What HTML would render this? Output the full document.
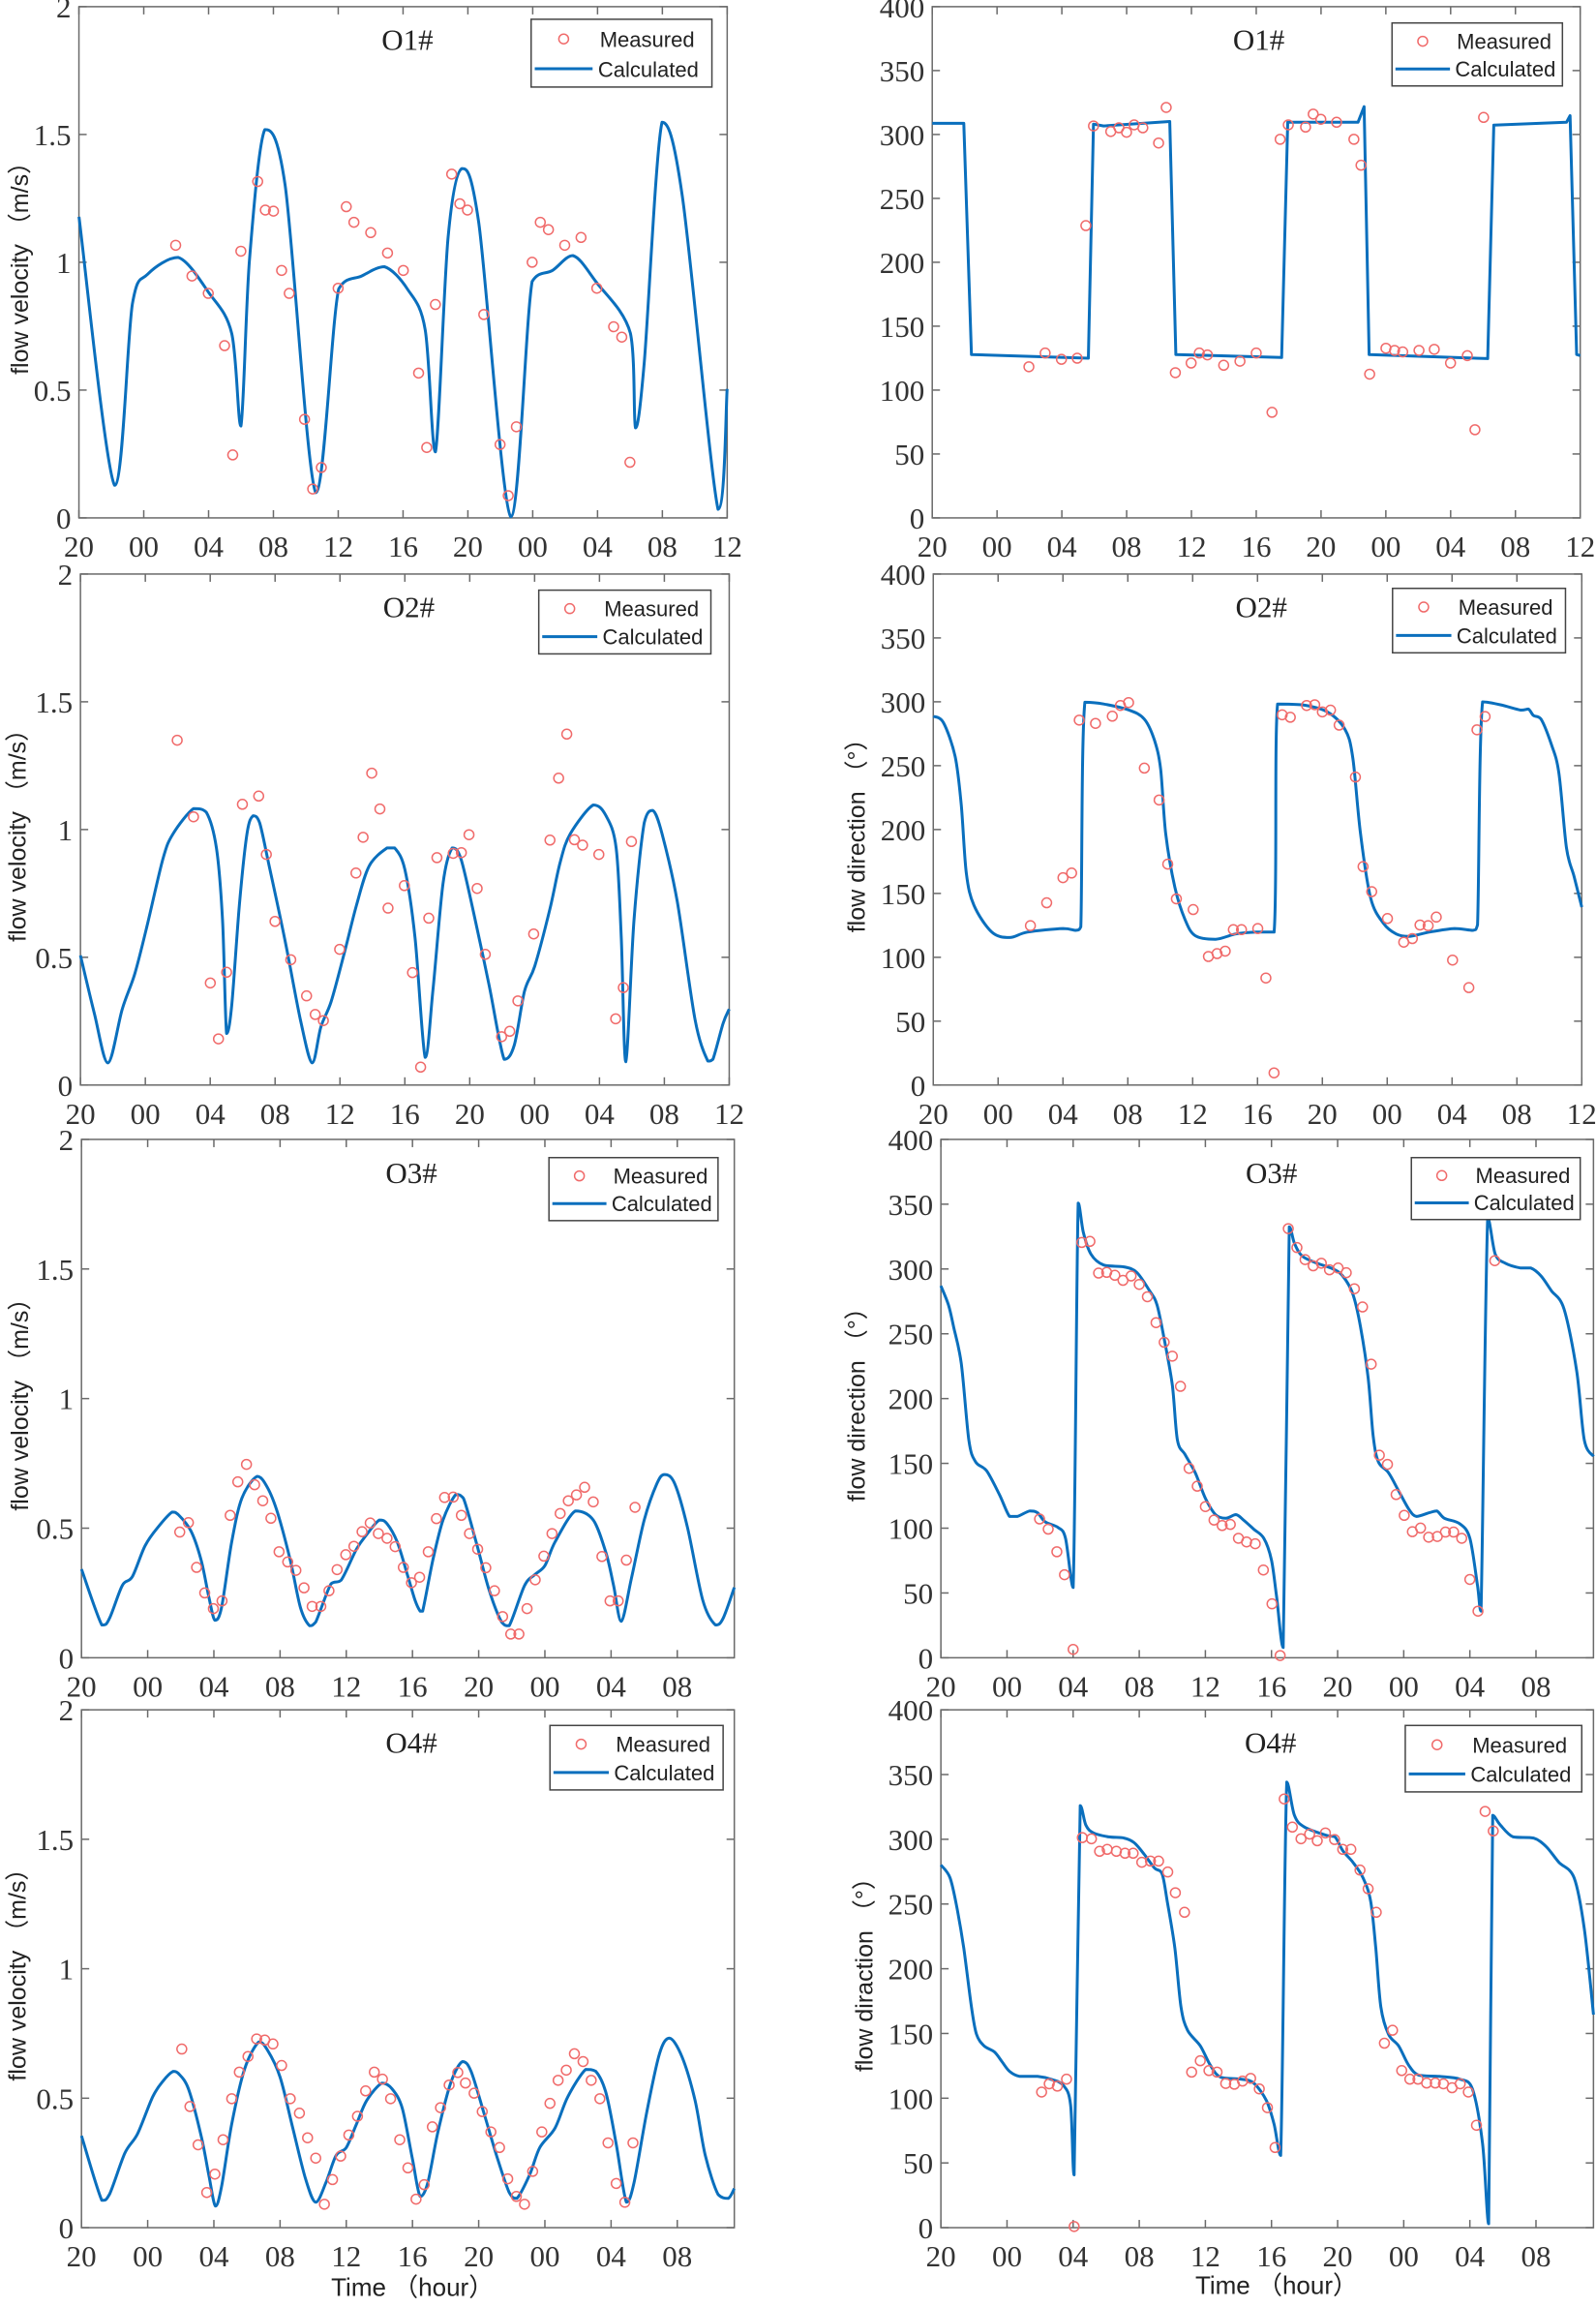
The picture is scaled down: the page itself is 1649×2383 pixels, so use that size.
<!DOCTYPE html>
<html><head><meta charset="utf-8">
<style>
html,body{margin:0;padding:0;background:#fff;}
svg{display:block;}
</style></head>
<body>
<svg id="s" xmlns="http://www.w3.org/2000/svg" width="1649" height="2383" viewBox="0 0 1649 2383">
<rect width="1649" height="2383" fill="#fff"/>
</svg>
<script>
const S=document.getElementById('s');
const NS='http://www.w3.org/2000/svg';
function el(t,a,txt){const e=document.createElementNS(NS,t);for(const k in a)e.setAttribute(k,a[k]);if(txt!==undefined)e.textContent=txt;S.appendChild(e);return e;}
function P(s){const a=s.split(/[\s,]+/).filter(x=>x).map(Number);const r=[];for(let i=0;i<a.length;i+=2)r.push([a[i],a[i+1]]);return r;}
const panels=[
{ox:0,oy:0,fy:600/1568,box:[155,1428,18,1398],type:'v',wide:true,title:'O1#',tp:[800,135],leg:[1043,52,1398,235],ylab:'',
curve:P("155,585 225,1310 260,820 290,740 350,695 410,790 455,900 473,1150 490,700 520,350 560,500 620,1330 665,780 710,745 755,720 800,780 835,890 855,1220 880,640 907,455 940,600 1003,1395 1045,760 1085,730 1125,690 1170,760 1238,900 1248,1155 1265,980 1300,330 1340,530 1410,1375 1428,1050"),
meas:P("345,662 377,745 409,792 441,933 457,1228 473,678 506,490 521,567 537,570 553,730 568,792 598,1132 614,1320 631,1262 664,778 680,558 695,600 728,628 761,683 792,730 822,1007 838,1208 855,822 887,470 903,550 918,567 950,849 982,1200 998,1338 1014,1152 1045,708 1061,600 1077,620 1109,662 1141,641 1172,778 1205,882 1221,910 1237,1248"),yl:'flow velocity （m/s）',ylx:40},
{ox:825,oy:0,fy:600/1568,box:[263,1537,18,1398],type:'d',wide:true,title:'O1#',tp:[905,135],leg:[1167,62,1502,232],ylab:'',sharp:true,
curve:P("263,333 325,333 340,957 570,967 580,335 600,340 730,328 742,957 950,965 962,330 1100,330 1112,288 1122,957 1355,968 1367,338 1510,330 1517,312 1530,957 1537,960"),
meas:P("453,990 485,953 517,970 548,967 565,609 580,340 614,355 630,345 645,357 660,337 677,345 708,386 723,290 741,1006 772,980 788,953 804,958 836,986 868,975 900,953 931,1113 947,376 963,337 997,343 1012,308 1027,322 1058,330 1092,376 1106,446 1123,1010 1155,940 1172,946 1188,950 1220,946 1250,943 1282,980 1315,960 1330,1160 1347,317"),yl:''},
{ox:0,oy:580,fy:580/1568,box:[158,1432,35,1462],type:'v',wide:true,title:'O2#',tp:[803,155],leg:[1058,80,1396,258],
curve:P("158,1100 185,1260 212,1400 240,1250 265,1150 290,1010 320,830 340,760 380,690 405,700 425,800 437,1000 445,1318 455,1240 470,960 485,760 497,710 510,730 530,860 560,1060 590,1280 613,1400 630,1300 650,1230 675,1100 700,960 725,850 760,800 775,800 795,860 815,1050 835,1385 850,1200 870,900 888,800 905,830 930,980 960,1180 990,1390 1010,1350 1030,1200 1050,1130 1080,970 1100,840 1120,760 1165,680 1190,710 1210,800 1220,1050 1229,1397 1245,1000 1265,730 1282,695 1300,760 1330,950 1365,1280 1390,1395 1400,1390 1420,1290 1432,1250"),
meas:P("348,499 380,713 413,1177 429,1333 445,1147 476,678 508,655 523,818 540,1005 571,1112 602,1213 619,1265 635,1282 667,1083 699,870 713,770 730,591 746,691 762,968 794,905 810,1148 826,1412 842,996 858,827 890,815 906,813 921,763 937,913 953,1097 985,1327 1001,1312 1017,1227 1048,1040 1080,778 1097,605 1113,482 1128,777 1144,792 1176,818 1209,1277 1224,1190 1240,782"),yl:'flow velocity （m/s）',ylx:35},
{ox:825,oy:580,fy:580/1568,box:[265,1540,35,1462],type:'d',wide:true,title:'O2#',tp:[910,155],leg:[1168,75,1508,255],
curve:P("265,432 285,450 308,545 320,680 330,870 345,960 380,1035 415,1050 450,1035 520,1025 545,1030 555,1020 563,393 600,398 650,415 680,440 700,500 712,580 722,760 740,910 760,1000 780,1045 820,1055 860,1040 900,1035 935,1035 942,398 990,400 1040,420 1075,470 1090,550 1105,760 1125,940 1150,1010 1175,1040 1200,1047 1240,1035 1290,1025 1325,1030 1335,1015 1345,392 1380,400 1420,415 1435,412 1445,430 1460,440 1480,510 1495,590 1510,800 1525,880 1540,965"),
meas:P("456,1017 488,953 520,883 537,870 552,443 584,452 617,432 633,402 649,394 680,577 709,666 726,845 743,942 776,972 806,1103 823,1095 839,1088 855,1028 871,1028 903,1025 919,1163 935,1428 951,428 967,435 999,402 1015,400 1030,420 1046,415 1063,457 1095,602 1110,852 1127,922 1158,997 1190,1063 1207,1053 1222,1015 1238,1017 1254,993 1286,1113 1318,1190 1334,470 1350,433"),yl:'flow direction （°）',ylx:115},
{ox:0,oy:1160,fy:590/1568,box:[160,1442,45,1468],type:'v',wide:false,title:'O3#',tp:[808,165],leg:[1078,95,1410,268],
curve:P("160,1225 200,1378 215,1360 240,1270 260,1245 285,1160 310,1110 338,1068 350,1075 375,1120 395,1200 410,1300 422,1365 435,1330 455,1150 475,1030 505,970 525,1000 545,1070 570,1200 590,1330 608,1380 620,1370 650,1265 670,1255 700,1170 720,1130 745,1090 760,1100 780,1150 800,1240 815,1310 825,1340 830,1340 850,1200 870,1090 895,1020 910,1030 935,1150 960,1280 985,1370 1000,1380 1030,1270 1050,1240 1070,1215 1090,1150 1130,1065 1165,1090 1190,1180 1205,1270 1220,1368 1240,1250 1265,1090 1290,990 1305,965 1325,990 1350,1110 1380,1310 1405,1378 1420,1360 1442,1275"),
meas:P("353,1123 370,1097 386,1220 402,1290 419,1333 436,1312 452,1077 467,985 484,937 500,993 516,1037 532,1085 548,1177 565,1205 581,1228 597,1276 613,1327 630,1327 646,1284 662,1226 679,1185 695,1162 711,1122 727,1098 743,1127 760,1140 776,1163 792,1220 808,1262 824,1247 841,1177 857,1086 873,1028 890,1027 906,1077 922,1127 938,1170 954,1221 971,1284 987,1355 1003,1403 1019,1403 1035,1333 1051,1254 1068,1189 1084,1127 1100,1072 1116,1037 1132,1021 1148,1000 1165,1040 1182,1190 1198,1312 1214,1312 1230,1200 1247,1055"),yl:'flow velocity （m/s）',ylx:40},
{ox:825,oy:1160,fy:590/1568,box:[280,1563,45,1468],type:'d',wide:false,title:'O3#',tp:[930,165],leg:[1205,95,1537,265],
curve:P("280,447 295,500 305,560 320,660 335,870 348,930 370,955 395,1020 415,1080 430,1080 455,1065 470,1070 485,1095 510,1110 525,1140 540,1275 550,220 560,300 575,360 600,390 640,395 665,410 690,460 705,500 720,600 735,720 745,870 760,910 780,960 800,1030 820,1075 840,1085 860,1075 875,1090 895,1115 915,1140 930,1200 940,1300 953,1440 965,285 975,330 990,365 1020,385 1050,400 1070,420 1090,470 1105,560 1120,700 1130,860 1140,930 1160,960 1180,1010 1200,1060 1215,1080 1240,1070 1255,1065 1270,1085 1300,1100 1320,1140 1335,1270 1342,1340 1355,260 1370,360 1390,385 1420,398 1440,398 1460,420 1480,460 1505,510 1530,680 1545,870 1563,915"),
meas:P("474,1087 491,1115 508,1177 523,1240 540,1445 557,328 573,325 590,412 606,410 622,418 638,432 654,420 670,443 686,477 703,548 719,602 735,640 751,723 768,948 784,997 800,1053 817,1090 833,1105 849,1102 865,1140 881,1150 898,1155 914,1227 931,1320 947,1462 963,290 980,342 996,375 1012,392 1028,385 1044,403 1061,398 1077,411 1093,455 1109,505 1126,662 1142,912 1158,937 1175,1020 1191,1077 1207,1122 1223,1112 1239,1137 1256,1135 1272,1123 1288,1123 1304,1140 1320,1253 1336,1340 1369,378"),yl:'flow direction （°）',ylx:115},
{ox:0,oy:1750,fy:633/1568,box:[160,1442,40,1365],type:'v',wide:false,title:'O4#',tp:[808,150],leg:[1080,80,1420,245],xl:[810,1515],
curve:P("160,1130 200,1295 215,1280 245,1175 270,1125 300,1030 320,990 340,965 350,970 370,1010 395,1130 410,1230 423,1310 435,1260 455,1100 480,960 508,890 525,910 550,980 575,1110 600,1240 620,1300 640,1250 660,1180 680,1160 700,1100 720,1040 750,995 770,1010 790,1060 810,1190 825,1285 840,1250 860,1120 885,995 908,940 925,965 950,1070 975,1180 1000,1275 1015,1290 1040,1230 1060,1160 1090,1110 1115,1030 1150,960 1170,965 1190,1020 1210,1150 1230,1300 1245,1250 1270,1070 1295,920 1315,880 1340,930 1365,1040 1385,1180 1410,1280 1430,1290 1442,1265"),
meas:P("357,908 373,1055 389,1153 406,1275 422,1228 438,1140 455,1035 470,967 487,927 504,882 520,885 536,895 553,950 570,1035 588,1072 604,1135 620,1187 637,1305 653,1242 669,1182 685,1128 702,1080 718,1015 735,967 751,985 767,1035 785,1140 801,1212 817,1292 833,1255 849,1107 865,1058 882,1000 899,968 914,995 931,1021 947,1068 964,1120 981,1160 997,1240 1014,1285 1030,1305 1046,1221 1064,1120 1080,1047 1096,988 1112,962 1128,920 1145,940 1161,988 1178,1035 1194,1148 1210,1252 1227,1300 1243,1148"),yl:'flow velocity （m/s）',ylx:35},
{ox:825,oy:1750,fy:633/1568,box:[280,1563,40,1365],type:'d',wide:false,title:'O4#',tp:[928,150],leg:[1193,80,1540,250],xl:[940,1510],
curve:P("280,437 298,470 312,550 325,650 340,800 350,870 365,900 385,915 400,940 415,965 435,978 470,978 495,985 520,1000 535,1050 542,1230 554,285 565,335 580,355 610,365 640,368 660,380 680,410 700,445 715,460 725,530 740,650 752,800 765,860 790,900 810,950 830,980 870,985 895,995 920,1040 935,1100 948,1180 960,225 975,310 995,340 1040,362 1055,365 1070,400 1090,430 1110,470 1125,530 1135,650 1145,800 1160,870 1180,900 1200,950 1220,975 1260,978 1300,985 1325,1010 1345,1150 1357,1355 1365,310 1380,335 1405,365 1445,368 1470,390 1495,430 1525,470 1545,600 1563,820"),
meas:P("478,1018 493,997 509,1003 527,985 542,1362 558,367 576,370 592,402 607,397 625,402 642,407 658,407 675,430 692,427 708,427 726,455 741,508 759,558 773,967 790,938 807,963 823,967 840,996 857,998 873,990 889,983 906,1010 922,1058 937,1160 955,268 971,340 988,370 1005,358 1020,375 1036,355 1054,372 1070,397 1086,397 1104,450 1120,498 1136,558 1152,893 1168,860 1186,963 1202,985 1218,985 1235,995 1252,995 1268,997 1285,1007 1301,997 1317,1018 1333,1103 1350,300 1366,350"),yl:'flow diraction （°）',ylx:130}
];
const BLUE='#0a6fbd', RED='#f06a6a', AX='#6a6a6a';
function clamp(v,a,b){const lo=Math.min(a,b),hi=Math.max(a,b);return Math.min(Math.max(v,lo),hi);}
function smooth(pts,k){
  let d='M'+pts[0][0].toFixed(1)+','+pts[0][1].toFixed(1);
  for(let i=0;i<pts.length-1;i++){
    const p0=pts[Math.max(0,i-1)],p1=pts[i],p2=pts[i+1],p3=pts[Math.min(pts.length-1,i+2)];
    const c1=[p1[0]+(p2[0]-p0[0])*k,p1[1]+(p2[1]-p0[1])*k];
    const c2=[p2[0]-(p3[0]-p1[0])*k,p2[1]-(p3[1]-p1[1])*k];
    c1[0]=clamp(c1[0],p1[0],p2[0]);c2[0]=clamp(c2[0],p1[0],p2[0]);
    c1[1]=clamp(c1[1],p1[1],p2[1]);c2[1]=clamp(c2[1],p1[1],p2[1]);
    d+=' C'+c1[0].toFixed(1)+','+c1[1].toFixed(1)+' '+c2[0].toFixed(1)+','+c2[1].toFixed(1)+' '+p2[0].toFixed(1)+','+p2[1].toFixed(1);
  }
  return d;
}
panels.forEach(p=>{
  const fx=(p.ox===0?825:824)/1568, fy=p.fy;
  const X=x=>p.ox+x*fx, Y=y=>p.oy+y*fy;
  const [zl,zr,zt,zb]=p.box;
  const L=X(zl),R=X(zr),T=Y(zt),B=Y(zb);
  const tl=8;
  let xt=[];
  if(p.wide){for(let i=0;i<=10;i++)xt.push(L+(R-L)*i/10);}
  else{const st=130*fx;for(let i=0;i<=9;i++)xt.push(L+st*i);}
  const xlabs=['20','00','04','08','12','16','20','00','04','08','12'];
  xt.forEach((x,i)=>{
    el('line',{x1:x,y1:B,x2:x,y2:B-tl,stroke:AX,'stroke-width':1.5});
    el('line',{x1:x,y1:T,x2:x,y2:T+tl,stroke:AX,'stroke-width':1.5});
    el('text',{x:x,y:B+40,'text-anchor':'middle','font-family':'Liberation Serif, serif','font-size':31,fill:'#333'},xlabs[i]);
  });
  const ny=p.type==='v'?4:8;
  for(let i=0;i<=ny;i++){
    const y=B-(B-T)*i/ny;
    el('line',{x1:L,y1:y,x2:L+tl,y2:y,stroke:AX,'stroke-width':1.5});
    el('line',{x1:R,y1:y,x2:R-tl,y2:y,stroke:AX,'stroke-width':1.5});
    const lab=p.type==='v'?['0','0.5','1','1.5','2'][i]:String(i*50);
    el('text',{x:L-8,y:y+11,'text-anchor':'end','font-family':'Liberation Serif, serif','font-size':31,fill:'#333'},lab);
  }
  el('rect',{x:L,y:T,width:R-L,height:B-T,fill:'none',stroke:AX,'stroke-width':1.5});
  const pts=p.curve.map(q=>[X(q[0]),Y(q[1])]);
  el('path',{d:p.sharp?('M'+pts.map(q=>q[0].toFixed(1)+','+q[1].toFixed(1)).join(' L')):smooth(pts,0.16),fill:'none',stroke:BLUE,'stroke-width':3,'stroke-linejoin':'round'});
  p.meas.forEach(q=>el('circle',{cx:X(q[0]),cy:Y(q[1]),r:5,fill:'none',stroke:RED,'stroke-width':1.5}));
  el('text',{x:X(p.tp[0]),y:Y(p.tp[1]),'text-anchor':'middle','font-family':'Liberation Serif, serif','font-size':31,fill:'#222'},p.title);
  const [a,b,c,d]=p.leg; const lx=X(a),ly=Y(b),lw=X(c)-X(a),lh=Y(d)-Y(b);
  el('rect',{x:lx,y:ly,width:lw,height:lh,fill:'#fff',stroke:'#444','stroke-width':1.5});
  el('circle',{cx:lx+lw*0.18,cy:ly+lh*0.29,r:5,fill:'none',stroke:RED,'stroke-width':1.5});
  el('line',{x1:lx+lw*0.02,y1:ly+lh*0.73,x2:lx+lw*0.34,y2:ly+lh*0.73,stroke:BLUE,'stroke-width':3});
  el('text',{x:lx+lw*0.38,y:ly+lh*0.41,'font-family':'Liberation Sans, sans-serif','font-size':22,fill:'#222'},'Measured');
  el('text',{x:lx+lw*0.37,y:ly+lh*0.85,'font-family':'Liberation Sans, sans-serif','font-size':22,fill:'#222'},'Calculated');
  if(p.yl){const cx=X(p.ylx)+8, cy=(T+B)/2;
    el('text',{x:cx,y:cy,'text-anchor':'middle',transform:'rotate(-90 '+cx+' '+cy+')','font-family':'Liberation Sans, "Noto Sans CJK SC", sans-serif','font-size':25,fill:'#222'},p.yl);}
  if(p.xl){el('text',{x:X(p.xl[0]),y:Y(p.xl[1])+10,'text-anchor':'middle','font-family':'Liberation Sans, "Noto Sans CJK SC", sans-serif','font-size':26,fill:'#222'},'Time （hour）');}
});
</script>
</body></html>
